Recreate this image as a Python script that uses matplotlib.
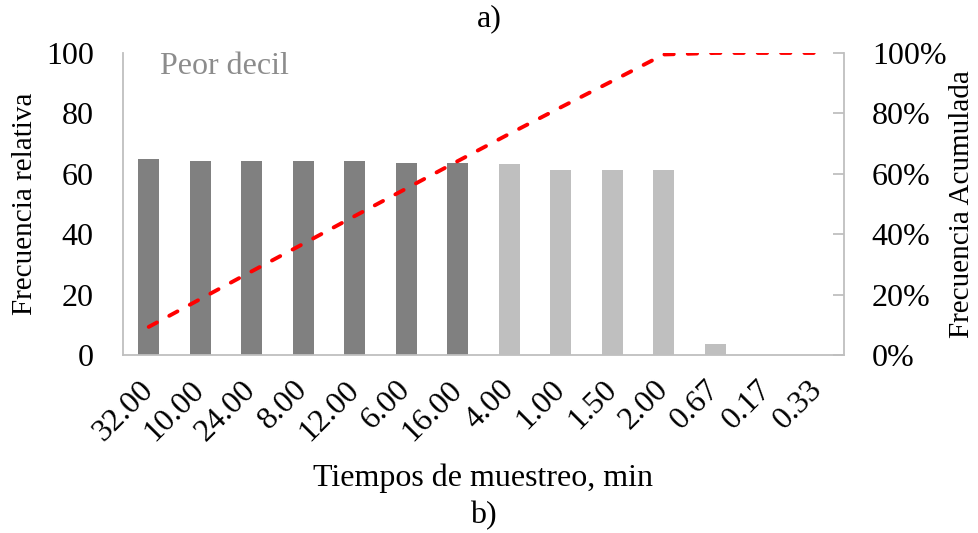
import matplotlib
matplotlib.use("Agg")
import matplotlib.pyplot as plt
from matplotlib.ticker import FixedLocator

plt.rcParams['font.family'] = ['Liberation Serif', 'DejaVu Serif']

categories = ["32.00", "10.00", "24.00", "8.00", "12.00", "6.00", "16.00",
              "4.00", "1.00", "1.50", "2.00", "0.67", "0.17", "0.33"]
freq_relativa = [65.0, 64.3, 64.3, 64.3, 64.3, 63.6, 63.6,
                 63.2, 61.3, 61.3, 61.3, 3.6, 0.0, 0.0]
peor_decil = [True, True, True, True, True, True, True,
              False, False, False, False, False, False, False]
freq_acumulada = [9.3, 18.5, 27.7, 36.8, 46.0, 55.1, 64.2,
                  73.2, 82.0, 90.7, 99.5, 100.0, 100.0, 100.0]
left_ticks = [0, 20, 40, 60, 80, 100]
right_ticks = [0, 20, 40, 60, 80, 100]

dark = '#808080'
light = '#bfbfbf'
axis_c = '#bfbfbf'
FS = 23
FSV = 21

fig = plt.figure(figsize=(9.79, 5.33), dpi=100)
ax = fig.add_axes([0.1256, 0.334, 0.7365, 0.5666])
x = list(range(len(categories)))
colors = [dark if p else light for p in peor_decil]
ax.bar(x, freq_relativa, width=0.41, color=colors, zorder=2)
ax.set_xlim(-0.5, len(categories) - 0.5)
ax.set_ylim(0, 100)
ax.yaxis.set_major_locator(FixedLocator(left_ticks))
ax.tick_params(axis='y', length=0, labelsize=FS, pad=21)
ax.set_xticks(x)
ax.set_xticklabels(categories, rotation=45, ha='right', va='center',
                   rotation_mode='anchor', fontsize=FS)
ax.tick_params(axis='x', length=0, pad=22)
for s in ['top', 'right']:
    ax.spines[s].set_visible(False)
for s in ['left', 'bottom']:
    ax.spines[s].set_color(axis_c)
    ax.spines[s].set_linewidth(1.3)
ax.set_ylabel('Frecuencia relativa', fontsize=FSV, labelpad=6)
ax.set_xlabel('Tiempos de muestreo, min', fontsize=FS, labelpad=12)

ax.text(0.22, 95.4, 'Peor decil', fontsize=FS, color='#8c8c8c', va='center', ha='left')

ax2 = ax.twinx()
ax2.plot(x, freq_acumulada, color='#ff0000', linewidth=2.8,
         linestyle=(0, (2.4, 3.6)), dash_capstyle='round', zorder=3)
ax2.set_ylim(0, 100)
ax2.yaxis.set_major_locator(FixedLocator(right_ticks))
ax2.set_yticklabels([f"{t}%" for t in right_ticks])
ax2.tick_params(axis='y', direction='in', length=8, width=1.3, color=axis_c,
                labelsize=FS, pad=20)
for s in ['top', 'left', 'bottom']:
    ax2.spines[s].set_visible(False)
ax2.spines['right'].set_color(axis_c)
ax2.spines['right'].set_linewidth(1.3)
ax2.set_ylabel('Frecuencia Acumulada', fontsize=FSV, labelpad=2)

fig.text(0.5, 0.965, 'a)', fontsize=FS, ha='center', va='center')
fig.text(0.494, 0.033, 'b)', fontsize=FS, ha='center', va='center')

fig.savefig('out.png', dpi=100)
